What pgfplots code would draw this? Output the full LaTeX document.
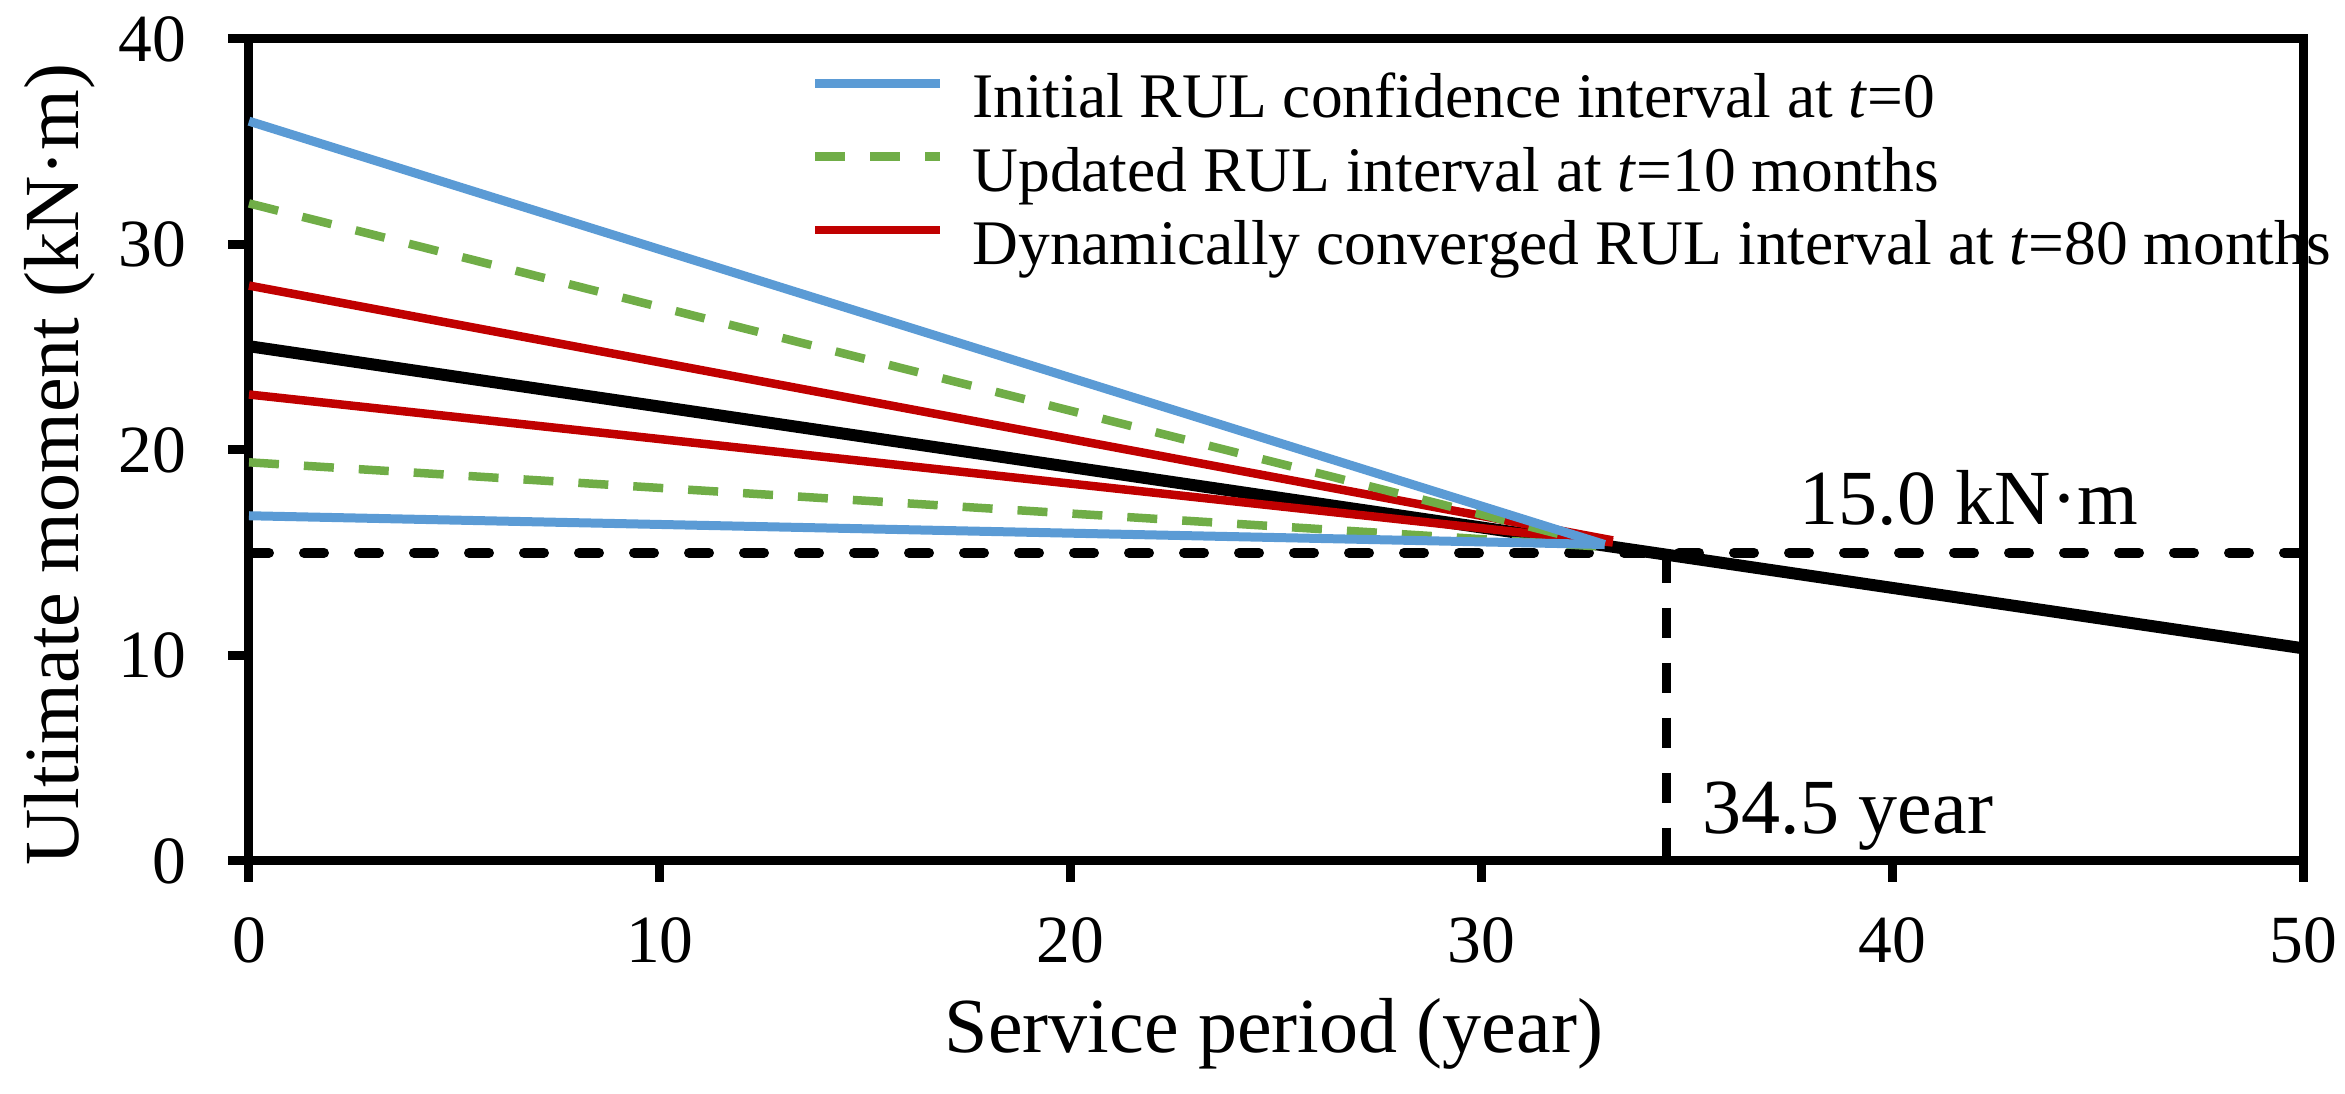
\documentclass[border=0pt]{standalone}
\usepackage{fontspec}
\setmainfont{Liberation Serif}
\usepackage{pgfplots}
\pgfplotsset{compat=1.18}
\definecolor{cblue}{HTML}{5B9BD5}
\definecolor{cgreen}{HTML}{70AD47}
\definecolor{cred}{HTML}{C00000}
\begin{document}
\begin{tikzpicture}
\begin{axis}[
  at={(0,0)}, anchor=south west,
  scale only axis, width=410.8pt, height=164.4pt,
  xmin=0, xmax=50, ymin=0, ymax=40,
  xtick={0,10,...,50}, ytick={0,10,...,40},
  axis line style={line width=1.8pt},
  tick style={line width=1.8pt, black},
  major tick length=4.2pt,
  tick align=outside,
  xtick pos=bottom, ytick pos=left,
  /pgf/number format/assume math mode=true,
  tick label style={font=\fontsize{13.5}{16}\selectfont},
  yticklabel style={anchor=east, inner sep=0pt, xshift=-8.2pt},
  xticklabel style={anchor=north, inner sep=0pt, yshift=-7pt},
  clip=false,
  reverse legend,
  legend style={draw=none, fill=none, at={(rel axis cs:0.2731,1)}, anchor=north west, yshift=-4.8pt,
    inner sep=0pt, row sep=0pt, column sep=5.5pt, font=\fontsize{12.7}{15}\selectfont,
    nodes={inner ysep=1.25pt, inner xsep=0pt, text height=9.5pt, text depth=2.7pt}},
  legend cell align=left,
  legend image code/.code={\draw[#1] (0pt,3.5pt) -- (25pt,3.5pt);},
]
% reference lines
\addplot[black, line width=2pt, line cap=round, dash pattern=on 4pt off 7pt, forget plot] coordinates {(0,15) (50,15)};
\addplot[black, line width=1.8pt, dash pattern=on 6pt off 5pt, forget plot] coordinates {(34.5,15) (34.5,0)};
% mean curve
\addplot[black, line width=2.4pt, forget plot] coordinates {(0,25.05) (50,10.35)};
% converged interval
\addplot[cred, line width=1.7pt, forget plot] coordinates {(0,22.7) (33.2,15.5)};
\addplot[cred, line width=1.7pt] coordinates {(0,28.0) (33.2,15.6)};
\addlegendentry{Dynamically converged RUL interval at \textit{t}=80 months}
% updated interval
\addplot[cgreen, line width=1.7pt, dash pattern=on 6pt off 5pt, forget plot] coordinates {(0,19.4) (32.9,15.3)};
\addplot[cgreen, line width=1.7pt, dash pattern=on 6pt off 5pt] coordinates {(0,32.0) (32.9,15.4)};
\addlegendentry{Updated RUL interval at \textit{t}=10 months}
% initial interval
\addplot[cblue, line width=1.8pt, forget plot] coordinates {(0,16.8) (33.0,15.4)};
\addplot[cblue, line width=1.8pt] coordinates {(0,36.0) (33.0,15.4)};
\addlegendentry{Initial RUL confidence interval at \textit{t}=0}
% annotations
\node[anchor=base west, inner sep=0pt, font=\fontsize{15.6}{18}\selectfont] at (axis cs:37.73,16.35) {15.0 kN·m};
\node[anchor=base west, inner sep=0pt, font=\fontsize{15.6}{18}\selectfont] at (axis cs:35.37,1.36) {34.5 year};
% axis labels
\node[anchor=base, inner sep=0pt, font=\fontsize{15.6}{18}\selectfont] at ([yshift=-38.4pt]rel axis cs:0.499,0) {Service period (year)};
\node[anchor=base, rotate=90, inner sep=0pt, font=\fontsize{15.6}{18}\selectfont] at ([xshift=-34pt]rel axis cs:0,0.482) {Ultimate moment (kN·m)};
\end{axis}
\pgfresetboundingbox
\path (-49.8pt,-46.6pt) rectangle (419.2pt,172.2pt);
\end{tikzpicture}
\end{document}
